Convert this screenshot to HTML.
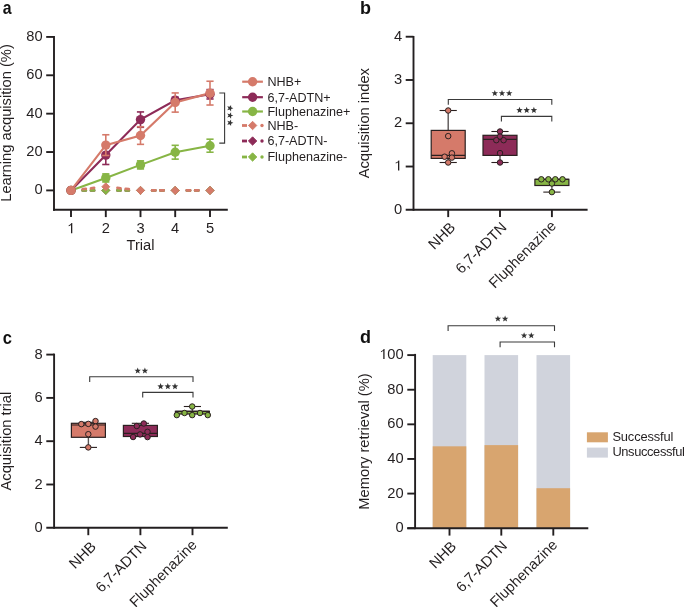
<!DOCTYPE html>
<html><head><meta charset="utf-8"><style>
html,body{margin:0;padding:0;background:#fff;}
svg{display:block;will-change:transform;font-family:"Liberation Sans",sans-serif;}
text{font-family:"Liberation Sans",sans-serif;}
</style></head><body>
<svg width="685" height="607" viewBox="0 0 685 607">
<rect width="685" height="607" fill="#fff"/>
<text x="0" y="0" font-size="18" font-weight="bold" fill="#111" transform="translate(2.8,13.8) scale(0.88,1)">a</text>
<line x1="54.0" y1="36.0" x2="54.0" y2="210.65" stroke="#231f20" stroke-width="1.9" />
<line x1="53.05" y1="209.7" x2="227.8" y2="209.7" stroke="#231f20" stroke-width="1.9" />
<line x1="46.2" y1="190.4" x2="54.0" y2="190.4" stroke="#231f20" stroke-width="1.9" />
<text x="34.42" y="194.40" font-size="14.7" fill="#231f20">0</text>
<line x1="46.2" y1="152.03" x2="54.0" y2="152.03" stroke="#231f20" stroke-width="1.9" />
<text x="26.25" y="156.03" font-size="14.7" fill="#231f20">2</text>
<text x="34.42" y="156.03" font-size="14.7" fill="#231f20">0</text>
<line x1="46.2" y1="113.66" x2="54.0" y2="113.66" stroke="#231f20" stroke-width="1.9" />
<text x="26.25" y="117.66" font-size="14.7" fill="#231f20">4</text>
<text x="34.42" y="117.66" font-size="14.7" fill="#231f20">0</text>
<line x1="46.2" y1="75.29" x2="54.0" y2="75.29" stroke="#231f20" stroke-width="1.9" />
<text x="26.25" y="79.29" font-size="14.7" fill="#231f20">6</text>
<text x="34.42" y="79.29" font-size="14.7" fill="#231f20">0</text>
<line x1="46.2" y1="36.91999999999999" x2="54.0" y2="36.91999999999999" stroke="#231f20" stroke-width="1.9" />
<text x="26.25" y="40.92" font-size="14.7" fill="#231f20">8</text>
<text x="34.42" y="40.92" font-size="14.7" fill="#231f20">0</text>
<line x1="71.0" y1="209.7" x2="71.0" y2="217.1" stroke="#231f20" stroke-width="1.9" />
<path d="M570,0H750V1409H633C595,1300 480,1180 247,1104V970C380,1010 490,1070 570,1150Z" fill="#231f20" transform="translate(66.91,233.20) scale(0.00718,-0.00718)"/>
<line x1="105.8" y1="209.7" x2="105.8" y2="217.1" stroke="#231f20" stroke-width="1.9" />
<text x="101.71" y="233.20" font-size="14.7" fill="#231f20">2</text>
<line x1="140.5" y1="209.7" x2="140.5" y2="217.1" stroke="#231f20" stroke-width="1.9" />
<text x="136.41" y="233.20" font-size="14.7" fill="#231f20">3</text>
<line x1="175.2" y1="209.7" x2="175.2" y2="217.1" stroke="#231f20" stroke-width="1.9" />
<text x="171.11" y="233.20" font-size="14.7" fill="#231f20">4</text>
<line x1="210.0" y1="209.7" x2="210.0" y2="217.1" stroke="#231f20" stroke-width="1.9" />
<text x="205.91" y="233.20" font-size="14.7" fill="#231f20">5</text>
<text x="140.5" y="249.8" font-size="14.7" text-anchor="middle" font-weight="normal" fill="#231f20" >Trial</text>
<text x="0" y="0" font-size="14.7" text-anchor="middle" fill="#231f20" transform="translate(11.2,123.0) rotate(-90)">Learning acquisition (%)</text>
<path d="M82.70,190.40L85.80,190.40M91.00,190.40L94.10,190.40M117.45,190.40L120.55,190.40M125.75,190.40L128.85,190.40M152.15,190.40L155.25,190.40M160.45,190.40L163.55,190.40M186.90,190.40L190.00,190.40M195.20,190.40L198.30,190.40" fill="none" stroke="#8d2b58" stroke-width="2.8" stroke-linecap="round"/>
<polygon points="71.0,186.4 75.0,190.4 71.0,194.4 67.0,190.4" fill="#8d2b58" stroke="#8d2b58" stroke-width="0.9" stroke-linejoin="round"/>
<polygon points="105.8,186.4 109.8,190.4 105.8,194.4 101.8,190.4" fill="#8d2b58" stroke="#8d2b58" stroke-width="0.9" stroke-linejoin="round"/>
<polygon points="140.5,186.4 144.5,190.4 140.5,194.4 136.5,190.4" fill="#8d2b58" stroke="#8d2b58" stroke-width="0.9" stroke-linejoin="round"/>
<polygon points="175.2,186.4 179.2,190.4 175.2,194.4 171.2,190.4" fill="#8d2b58" stroke="#8d2b58" stroke-width="0.9" stroke-linejoin="round"/>
<polygon points="210.0,186.4 214.0,190.4 210.0,194.4 206.0,190.4" fill="#8d2b58" stroke="#8d2b58" stroke-width="0.9" stroke-linejoin="round"/>
<path d="M82.70,190.40L85.80,190.40M91.00,190.40L94.10,190.40M117.45,190.40L120.55,190.40M125.75,190.40L128.85,190.40M152.15,190.40L155.25,190.40M160.45,190.40L163.55,190.40M186.90,190.40L190.00,190.40M195.20,190.40L198.30,190.40" fill="none" stroke="#87b545" stroke-width="2.8" stroke-linecap="round"/>
<polygon points="71.0,186.4 75.0,190.4 71.0,194.4 67.0,190.4" fill="#87b545" stroke="#87b545" stroke-width="0.9" stroke-linejoin="round"/>
<polygon points="105.8,186.4 109.8,190.4 105.8,194.4 101.8,190.4" fill="#87b545" stroke="#87b545" stroke-width="0.9" stroke-linejoin="round"/>
<polygon points="140.5,186.4 144.5,190.4 140.5,194.4 136.5,190.4" fill="#87b545" stroke="#87b545" stroke-width="0.9" stroke-linejoin="round"/>
<polygon points="175.2,186.4 179.2,190.4 175.2,194.4 171.2,190.4" fill="#87b545" stroke="#87b545" stroke-width="0.9" stroke-linejoin="round"/>
<polygon points="210.0,186.4 214.0,190.4 210.0,194.4 206.0,190.4" fill="#87b545" stroke="#87b545" stroke-width="0.9" stroke-linejoin="round"/>
<path d="M82.73,189.17L85.81,188.85M90.99,188.31L94.07,187.98M117.48,187.98L120.56,188.31M125.74,188.85L128.82,189.17M152.15,190.40L155.25,190.40M160.45,190.40L163.55,190.40M186.90,190.40L190.00,190.40M195.20,190.40L198.30,190.40" fill="none" stroke="#d57a6a" stroke-width="2.8" stroke-linecap="round"/>
<polygon points="71.0,186.4 75.0,190.4 71.0,194.4 67.0,190.4" fill="#d57a6a" stroke="#d57a6a" stroke-width="0.9" stroke-linejoin="round"/>
<polygon points="105.8,182.75 109.8,186.75 105.8,190.75 101.8,186.75" fill="#d57a6a" stroke="#d57a6a" stroke-width="0.9" stroke-linejoin="round"/>
<polygon points="140.5,186.4 144.5,190.4 140.5,194.4 136.5,190.4" fill="#d57a6a" stroke="#d57a6a" stroke-width="0.9" stroke-linejoin="round"/>
<polygon points="175.2,186.4 179.2,190.4 175.2,194.4 171.2,190.4" fill="#d57a6a" stroke="#d57a6a" stroke-width="0.9" stroke-linejoin="round"/>
<polygon points="210.0,186.4 214.0,190.4 210.0,194.4 206.0,190.4" fill="#d57a6a" stroke="#d57a6a" stroke-width="0.9" stroke-linejoin="round"/>
<polyline points="71.0,190.40 105.8,177.93 140.5,164.88 175.2,152.22 210.0,145.70" fill="none" stroke="#87b545" stroke-width="2.1"/>
<polyline points="71.0,190.40 105.8,155.10 140.5,119.61 175.2,100.23 210.0,94.28" fill="none" stroke="#8d2b58" stroke-width="2.1"/>
<polyline points="71.0,190.40 105.8,145.12 140.5,135.53 175.2,102.53 210.0,93.13" fill="none" stroke="#d57a6a" stroke-width="2.1"/>
<circle cx="71.0" cy="190.40" r="4.7" fill="#87b545"/>
<line x1="105.8" y1="173.9009" x2="105.8" y2="181.9586" stroke="#87b545" stroke-width="1.6" />
<line x1="102.2" y1="173.9009" x2="109.39999999999999" y2="173.9009" stroke="#87b545" stroke-width="1.6" />
<line x1="102.2" y1="181.9586" x2="109.39999999999999" y2="181.9586" stroke="#87b545" stroke-width="1.6" />
<circle cx="105.8" cy="177.93" r="4.7" fill="#87b545"/>
<line x1="140.5" y1="160.8551" x2="140.5" y2="168.9128" stroke="#87b545" stroke-width="1.6" />
<line x1="136.9" y1="160.8551" x2="144.1" y2="160.8551" stroke="#87b545" stroke-width="1.6" />
<line x1="136.9" y1="168.9128" x2="144.1" y2="168.9128" stroke="#87b545" stroke-width="1.6" />
<circle cx="140.5" cy="164.88" r="4.7" fill="#87b545"/>
<line x1="175.2" y1="145.31525" x2="175.2" y2="159.12845000000002" stroke="#87b545" stroke-width="1.6" />
<line x1="171.6" y1="145.31525" x2="178.79999999999998" y2="145.31525" stroke="#87b545" stroke-width="1.6" />
<line x1="171.6" y1="159.12845000000002" x2="178.79999999999998" y2="159.12845000000002" stroke="#87b545" stroke-width="1.6" />
<circle cx="175.2" cy="152.22" r="4.7" fill="#87b545"/>
<line x1="210.0" y1="139.17605" x2="210.0" y2="152.22185" stroke="#87b545" stroke-width="1.6" />
<line x1="206.4" y1="139.17605" x2="213.6" y2="139.17605" stroke="#87b545" stroke-width="1.6" />
<line x1="206.4" y1="152.22185" x2="213.6" y2="152.22185" stroke="#87b545" stroke-width="1.6" />
<circle cx="210.0" cy="145.70" r="4.7" fill="#87b545"/>
<circle cx="71.0" cy="190.40" r="4.7" fill="#8d2b58"/>
<line x1="105.8" y1="145.69895000000002" x2="105.8" y2="164.50025" stroke="#8d2b58" stroke-width="1.6" />
<line x1="102.2" y1="145.69895000000002" x2="109.39999999999999" y2="145.69895000000002" stroke="#8d2b58" stroke-width="1.6" />
<line x1="102.2" y1="164.50025" x2="109.39999999999999" y2="164.50025" stroke="#8d2b58" stroke-width="1.6" />
<circle cx="105.8" cy="155.10" r="4.7" fill="#8d2b58"/>
<line x1="140.5" y1="111.93335" x2="140.5" y2="127.28135" stroke="#8d2b58" stroke-width="1.6" />
<line x1="136.9" y1="111.93335" x2="144.1" y2="111.93335" stroke="#8d2b58" stroke-width="1.6" />
<line x1="136.9" y1="127.28135" x2="144.1" y2="127.28135" stroke="#8d2b58" stroke-width="1.6" />
<circle cx="140.5" cy="119.61" r="4.7" fill="#8d2b58"/>
<line x1="175.2" y1="97.1609" x2="175.2" y2="103.3001" stroke="#8d2b58" stroke-width="1.6" />
<line x1="171.6" y1="97.1609" x2="178.79999999999998" y2="97.1609" stroke="#8d2b58" stroke-width="1.6" />
<line x1="171.6" y1="103.3001" x2="178.79999999999998" y2="103.3001" stroke="#8d2b58" stroke-width="1.6" />
<circle cx="175.2" cy="100.23" r="4.7" fill="#8d2b58"/>
<line x1="210.0" y1="89.58282499999999" x2="210.0" y2="98.983475" stroke="#8d2b58" stroke-width="1.6" />
<line x1="206.4" y1="89.58282499999999" x2="213.6" y2="89.58282499999999" stroke="#8d2b58" stroke-width="1.6" />
<line x1="206.4" y1="98.983475" x2="213.6" y2="98.983475" stroke="#8d2b58" stroke-width="1.6" />
<circle cx="210.0" cy="94.28" r="4.7" fill="#8d2b58"/>
<circle cx="71.0" cy="190.40" r="4.7" fill="#d57a6a"/>
<line x1="105.8" y1="134.7635" x2="105.8" y2="155.48329999999999" stroke="#d57a6a" stroke-width="1.6" />
<line x1="102.2" y1="134.7635" x2="109.39999999999999" y2="134.7635" stroke="#d57a6a" stroke-width="1.6" />
<line x1="102.2" y1="155.48329999999999" x2="109.39999999999999" y2="155.48329999999999" stroke="#d57a6a" stroke-width="1.6" />
<circle cx="105.8" cy="145.12" r="4.7" fill="#d57a6a"/>
<line x1="140.5" y1="126.7058" x2="140.5" y2="144.356" stroke="#d57a6a" stroke-width="1.6" />
<line x1="136.9" y1="126.7058" x2="144.1" y2="126.7058" stroke="#d57a6a" stroke-width="1.6" />
<line x1="136.9" y1="144.356" x2="144.1" y2="144.356" stroke="#d57a6a" stroke-width="1.6" />
<circle cx="140.5" cy="135.53" r="4.7" fill="#d57a6a"/>
<line x1="175.2" y1="92.9402" x2="175.2" y2="112.1252" stroke="#d57a6a" stroke-width="1.6" />
<line x1="171.6" y1="92.9402" x2="178.79999999999998" y2="92.9402" stroke="#d57a6a" stroke-width="1.6" />
<line x1="171.6" y1="112.1252" x2="178.79999999999998" y2="112.1252" stroke="#d57a6a" stroke-width="1.6" />
<circle cx="175.2" cy="102.53" r="4.7" fill="#d57a6a"/>
<line x1="210.0" y1="81.23734999999999" x2="210.0" y2="105.02675" stroke="#d57a6a" stroke-width="1.6" />
<line x1="206.4" y1="81.23734999999999" x2="213.6" y2="81.23734999999999" stroke="#d57a6a" stroke-width="1.6" />
<line x1="206.4" y1="105.02675" x2="213.6" y2="105.02675" stroke="#d57a6a" stroke-width="1.6" />
<circle cx="210.0" cy="93.13" r="4.7" fill="#d57a6a"/>
<path d="M219.3,93.0 H224.6 V143.1 H219.3" fill="none" stroke="#3a3a3a" stroke-width="1.1"/>
<g transform="translate(230.0,115.5) rotate(90)">
<polygon points="-7.30,-3.40 -6.46,-1.16 -4.07,-1.05 -5.94,0.44 -5.30,2.75 -7.30,1.43 -9.30,2.75 -8.66,0.44 -10.53,-1.05 -8.14,-1.16" fill="#333"/>
<polygon points="0.00,-3.40 0.84,-1.16 3.23,-1.05 1.36,0.44 2.00,2.75 0.00,1.43 -2.00,2.75 -1.36,0.44 -3.23,-1.05 -0.84,-1.16" fill="#333"/>
<polygon points="7.30,-3.40 8.14,-1.16 10.53,-1.05 8.66,0.44 9.30,2.75 7.30,1.43 5.30,2.75 5.94,0.44 4.07,-1.05 6.46,-1.16" fill="#333"/>
</g>
<line x1="242.2" y1="81.7" x2="262.9" y2="81.7" stroke="#d57a6a" stroke-width="2.2" />
<circle cx="252.6" cy="81.7" r="4.7" fill="#d57a6a"/>
<text x="267.4" y="86.10000000000001" font-size="12.6" text-anchor="start" font-weight="normal" fill="#231f20" >NHB+</text>
<line x1="242.2" y1="97.2" x2="262.9" y2="97.2" stroke="#8d2b58" stroke-width="2.2" />
<circle cx="252.6" cy="97.2" r="4.7" fill="#8d2b58"/>
<text x="267.4" y="101.60000000000001" font-size="12.6" text-anchor="start" font-weight="normal" fill="#231f20" >6,7-ADTN+</text>
<line x1="242.2" y1="111.5" x2="262.9" y2="111.5" stroke="#87b545" stroke-width="2.2" />
<circle cx="252.6" cy="111.5" r="4.7" fill="#87b545"/>
<text x="267.4" y="115.9" font-size="12.6" text-anchor="start" font-weight="normal" fill="#231f20" >Fluphenazine+</text>
<path d="M242.0,125.5H247.0" stroke="#d57a6a" stroke-width="2.8"/>
<polygon points="252.6,121.3 256.8,125.5 252.6,129.7 248.4,125.5" fill="#d57a6a" stroke="#d57a6a" stroke-width="0.9" stroke-linejoin="round"/>
<circle cx="262.0" cy="125.5" r="1.7" fill="#d57a6a"/>
<text x="267.4" y="129.9" font-size="12.6" text-anchor="start" font-weight="normal" fill="#231f20" >NHB-</text>
<path d="M242.0,141.0H247.0" stroke="#8d2b58" stroke-width="2.8"/>
<polygon points="252.6,136.8 256.8,141.0 252.6,145.2 248.4,141.0" fill="#8d2b58" stroke="#8d2b58" stroke-width="0.9" stroke-linejoin="round"/>
<circle cx="262.0" cy="141.0" r="1.7" fill="#8d2b58"/>
<text x="267.4" y="145.4" font-size="12.6" text-anchor="start" font-weight="normal" fill="#231f20" >6,7-ADTN-</text>
<path d="M242.0,157.0H247.0" stroke="#87b545" stroke-width="2.8"/>
<polygon points="252.6,152.8 256.8,157.0 252.6,161.2 248.4,157.0" fill="#87b545" stroke="#87b545" stroke-width="0.9" stroke-linejoin="round"/>
<circle cx="262.0" cy="157.0" r="1.7" fill="#87b545"/>
<text x="267.4" y="161.4" font-size="12.6" text-anchor="start" font-weight="normal" fill="#231f20" >Fluphenazine-</text>
<text x="359.9" y="13.8" font-size="18" text-anchor="start" font-weight="bold" fill="#111" >b</text>
<line x1="413.5" y1="36.0" x2="413.5" y2="210.75" stroke="#231f20" stroke-width="1.9" />
<line x1="405.7" y1="209.8" x2="587.6" y2="209.8" stroke="#231f20" stroke-width="1.9" />
<line x1="405.7" y1="166.53" x2="413.5" y2="166.53" stroke="#231f20" stroke-width="1.9" />
<path d="M570,0H750V1409H633C595,1300 480,1180 247,1104V970C380,1010 490,1070 570,1150Z" fill="#231f20" transform="translate(393.92,170.53) scale(0.00718,-0.00718)"/>
<line x1="405.7" y1="123.26" x2="413.5" y2="123.26" stroke="#231f20" stroke-width="1.9" />
<text x="393.92" y="127.26" font-size="14.7" fill="#231f20">2</text>
<line x1="405.7" y1="79.99000000000001" x2="413.5" y2="79.99000000000001" stroke="#231f20" stroke-width="1.9" />
<text x="393.92" y="83.99" font-size="14.7" fill="#231f20">3</text>
<line x1="405.7" y1="36.72" x2="413.5" y2="36.72" stroke="#231f20" stroke-width="1.9" />
<text x="393.92" y="40.72" font-size="14.7" fill="#231f20">4</text>
<text x="402.1" y="213.8" font-size="14.7" text-anchor="end" font-weight="normal" fill="#231f20" >0</text>
<line x1="448.2" y1="209.8" x2="448.2" y2="217.1" stroke="#231f20" stroke-width="1.9" />
<line x1="500.0" y1="209.8" x2="500.0" y2="217.1" stroke="#231f20" stroke-width="1.9" />
<line x1="551.9" y1="209.8" x2="551.9" y2="217.1" stroke="#231f20" stroke-width="1.9" />
<text x="0" y="0" font-size="14.7" text-anchor="middle" fill="#231f20" transform="translate(368.6,123.2) rotate(-90)">Acquisition index</text>
<text x="0" y="0" font-size="14.7" text-anchor="end" fill="#231f20" transform="translate(456.1,228.4) rotate(-45)">NHB</text>
<text x="0" y="0" font-size="14.7" text-anchor="end" fill="#231f20" transform="translate(507.6,228.3) rotate(-45)">6,7-ADTN</text>
<text x="0" y="0" font-size="14.7" text-anchor="end" fill="#231f20" transform="translate(557.1,226.7) rotate(-45)">Fluphenazine</text>
<line x1="448.2" y1="110.5" x2="448.2" y2="130.4" stroke="#5a5555" stroke-width="1.4" />
<line x1="439.59999999999997" y1="110.5" x2="456.8" y2="110.5" stroke="#2a2020" stroke-width="1.1" />
<line x1="448.2" y1="158.4" x2="448.2" y2="162.5" stroke="#5a5555" stroke-width="1.4" />
<line x1="439.59999999999997" y1="162.5" x2="456.8" y2="162.5" stroke="#2a2020" stroke-width="1.1" />
<rect x="431.2" y="130.4" width="34.0" height="28.0" fill="#d57a6a" stroke="#2a2020" stroke-width="1.2"/>
<line x1="431.2" y1="155.3" x2="465.2" y2="155.3" stroke="#2a2020" stroke-width="1.2" />
<circle cx="448.2" cy="110.5" r="2.75" fill="#d57a6a" stroke="#2a2020" stroke-width="1.0"/>
<circle cx="448.2" cy="136.1" r="2.75" fill="#d57a6a" stroke="#2a2020" stroke-width="1.0"/>
<circle cx="451.9" cy="153.3" r="2.75" fill="#d57a6a" stroke="#2a2020" stroke-width="1.0"/>
<circle cx="444.6" cy="156.7" r="2.75" fill="#d57a6a" stroke="#2a2020" stroke-width="1.0"/>
<circle cx="451.9" cy="157.6" r="2.75" fill="#d57a6a" stroke="#2a2020" stroke-width="1.0"/>
<circle cx="448.2" cy="162.5" r="2.75" fill="#d57a6a" stroke="#2a2020" stroke-width="1.0"/>
<line x1="500.0" y1="131.5" x2="500.0" y2="135.3" stroke="#5a5555" stroke-width="1.4" />
<line x1="491.4" y1="131.5" x2="508.6" y2="131.5" stroke="#2a2020" stroke-width="1.1" />
<line x1="500.0" y1="155.4" x2="500.0" y2="162.5" stroke="#5a5555" stroke-width="1.4" />
<line x1="491.4" y1="162.5" x2="508.6" y2="162.5" stroke="#2a2020" stroke-width="1.1" />
<rect x="483.0" y="135.3" width="34.0" height="20.099999999999994" fill="#8d2b58" stroke="#2a2020" stroke-width="1.2"/>
<line x1="483.0" y1="139.4" x2="517.0" y2="139.4" stroke="#2a2020" stroke-width="1.2" />
<circle cx="500.0" cy="131.5" r="2.75" fill="#8d2b58" stroke="#2a2020" stroke-width="1.0"/>
<circle cx="500.0" cy="136.6" r="2.75" fill="#8d2b58" stroke="#2a2020" stroke-width="1.0"/>
<circle cx="496.3" cy="140.2" r="2.75" fill="#8d2b58" stroke="#2a2020" stroke-width="1.0"/>
<circle cx="503.6" cy="140.2" r="2.75" fill="#8d2b58" stroke="#2a2020" stroke-width="1.0"/>
<circle cx="500.0" cy="153.1" r="2.75" fill="#8d2b58" stroke="#2a2020" stroke-width="1.0"/>
<circle cx="500.0" cy="162.5" r="2.75" fill="#8d2b58" stroke="#2a2020" stroke-width="1.0"/>
<line x1="551.9" y1="185.5" x2="551.9" y2="192.1" stroke="#5a5555" stroke-width="1.4" />
<line x1="543.3" y1="192.1" x2="560.5" y2="192.1" stroke="#2a2020" stroke-width="1.1" />
<rect x="534.9" y="179.3" width="34.0" height="6.199999999999989" fill="#87b545" stroke="#2a2020" stroke-width="1.2"/>
<line x1="534.9" y1="179.3" x2="568.9" y2="179.3" stroke="#2a2020" stroke-width="1.2" />
<circle cx="541.3" cy="179.3" r="2.75" fill="#87b545" stroke="#2a2020" stroke-width="1.0"/>
<circle cx="548.4" cy="179.3" r="2.75" fill="#87b545" stroke="#2a2020" stroke-width="1.0"/>
<circle cx="555.3" cy="179.3" r="2.75" fill="#87b545" stroke="#2a2020" stroke-width="1.0"/>
<circle cx="562.5" cy="179.3" r="2.75" fill="#87b545" stroke="#2a2020" stroke-width="1.0"/>
<circle cx="551.9" cy="183.5" r="2.75" fill="#87b545" stroke="#2a2020" stroke-width="1.0"/>
<circle cx="551.9" cy="192.1" r="2.75" fill="#87b545" stroke="#2a2020" stroke-width="1.0"/>
<path d="M448.3,104.7 V99.5 H551.8 V104.7" fill="none" stroke="#3a3a3a" stroke-width="1.1"/>
<polygon points="494.80,89.90 495.64,92.14 498.03,92.25 496.16,93.74 496.80,96.05 494.80,94.73 492.80,96.05 493.44,93.74 491.57,92.25 493.96,92.14" fill="#333"/>
<polygon points="502.00,89.90 502.84,92.14 505.23,92.25 503.36,93.74 504.00,96.05 502.00,94.73 500.00,96.05 500.64,93.74 498.77,92.25 501.16,92.14" fill="#333"/>
<polygon points="509.20,89.90 510.04,92.14 512.43,92.25 510.56,93.74 511.20,96.05 509.20,94.73 507.20,96.05 507.84,93.74 505.97,92.25 508.36,92.14" fill="#333"/>
<path d="M501.4,121.60000000000001 V116.4 H551.8 V121.60000000000001" fill="none" stroke="#3a3a3a" stroke-width="1.1"/>
<polygon points="519.50,106.80 520.34,109.04 522.73,109.15 520.86,110.64 521.50,112.95 519.50,111.63 517.50,112.95 518.14,110.64 516.27,109.15 518.66,109.04" fill="#333"/>
<polygon points="526.70,106.80 527.54,109.04 529.93,109.15 528.06,110.64 528.70,112.95 526.70,111.63 524.70,112.95 525.34,110.64 523.47,109.15 525.86,109.04" fill="#333"/>
<polygon points="533.90,106.80 534.74,109.04 537.13,109.15 535.26,110.64 535.90,112.95 533.90,111.63 531.90,112.95 532.54,110.64 530.67,109.15 533.06,109.04" fill="#333"/>
<text x="0" y="0" font-size="18" font-weight="bold" fill="#111" transform="translate(2.8,343.8) scale(0.92,1)">c</text>
<line x1="54.1" y1="353.6" x2="54.1" y2="528.75" stroke="#231f20" stroke-width="1.9" />
<line x1="46.300000000000004" y1="527.8" x2="227.8" y2="527.8" stroke="#231f20" stroke-width="1.9" />
<line x1="46.300000000000004" y1="484.49999999999994" x2="54.1" y2="484.49999999999994" stroke="#231f20" stroke-width="1.9" />
<text x="34.52" y="488.50" font-size="14.7" fill="#231f20">2</text>
<line x1="46.300000000000004" y1="441.19999999999993" x2="54.1" y2="441.19999999999993" stroke="#231f20" stroke-width="1.9" />
<text x="34.52" y="445.20" font-size="14.7" fill="#231f20">4</text>
<line x1="46.300000000000004" y1="397.9" x2="54.1" y2="397.9" stroke="#231f20" stroke-width="1.9" />
<text x="34.52" y="401.90" font-size="14.7" fill="#231f20">6</text>
<line x1="46.300000000000004" y1="354.59999999999997" x2="54.1" y2="354.59999999999997" stroke="#231f20" stroke-width="1.9" />
<text x="34.52" y="358.60" font-size="14.7" fill="#231f20">8</text>
<text x="42.699999999999996" y="531.8" font-size="14.7" text-anchor="end" font-weight="normal" fill="#231f20" >0</text>
<line x1="88.3" y1="527.8" x2="88.3" y2="535.2" stroke="#231f20" stroke-width="1.9" />
<line x1="140.4" y1="527.8" x2="140.4" y2="535.2" stroke="#231f20" stroke-width="1.9" />
<line x1="192.5" y1="527.8" x2="192.5" y2="535.2" stroke="#231f20" stroke-width="1.9" />
<text x="0" y="0" font-size="14.7" text-anchor="middle" fill="#231f20" transform="translate(11.3,441.1) rotate(-90)">Acquisition trial</text>
<text x="0" y="0" font-size="14.7" text-anchor="end" fill="#231f20" transform="translate(96.9,547.5) rotate(-45)">NHB</text>
<text x="0" y="0" font-size="14.7" text-anchor="end" fill="#231f20" transform="translate(147.6,547.1) rotate(-45)">6,7-ADTN</text>
<text x="0" y="0" font-size="14.7" text-anchor="end" fill="#231f20" transform="translate(197.9,545.7) rotate(-45)">Fluphenazine</text>
<line x1="88.4" y1="422.3" x2="88.4" y2="423.3" stroke="#5a5555" stroke-width="1.4" />
<line x1="79.80000000000001" y1="422.3" x2="97.0" y2="422.3" stroke="#2a2020" stroke-width="1.1" />
<line x1="88.4" y1="437.3" x2="88.4" y2="447.4" stroke="#5a5555" stroke-width="1.4" />
<line x1="79.80000000000001" y1="447.4" x2="97.0" y2="447.4" stroke="#2a2020" stroke-width="1.1" />
<rect x="71.4" y="423.3" width="34.0" height="14.0" fill="#d57a6a" stroke="#2a2020" stroke-width="1.2"/>
<line x1="71.4" y1="425.0" x2="105.4" y2="425.0" stroke="#2a2020" stroke-width="1.2" />
<circle cx="81.3" cy="424.1" r="2.75" fill="#d57a6a" stroke="#2a2020" stroke-width="1.0"/>
<circle cx="88.3" cy="423.9" r="2.75" fill="#d57a6a" stroke="#2a2020" stroke-width="1.0"/>
<circle cx="95.5" cy="421.1" r="2.75" fill="#d57a6a" stroke="#2a2020" stroke-width="1.0"/>
<circle cx="95.5" cy="426.6" r="2.75" fill="#d57a6a" stroke="#2a2020" stroke-width="1.0"/>
<circle cx="88.3" cy="434.2" r="2.75" fill="#d57a6a" stroke="#2a2020" stroke-width="1.0"/>
<circle cx="88.3" cy="447.4" r="2.75" fill="#d57a6a" stroke="#2a2020" stroke-width="1.0"/>
<line x1="140.4" y1="423.3" x2="140.4" y2="425.4" stroke="#5a5555" stroke-width="1.4" />
<line x1="131.8" y1="423.3" x2="149.0" y2="423.3" stroke="#2a2020" stroke-width="1.1" />
<rect x="123.4" y="425.4" width="34.0" height="11.100000000000023" fill="#8d2b58" stroke="#2a2020" stroke-width="1.2"/>
<line x1="123.4" y1="433.4" x2="157.4" y2="433.4" stroke="#2a2020" stroke-width="1.2" />
<circle cx="136.8" cy="426.0" r="2.75" fill="#8d2b58" stroke="#2a2020" stroke-width="1.0"/>
<circle cx="143.8" cy="423.5" r="2.75" fill="#8d2b58" stroke="#2a2020" stroke-width="1.0"/>
<circle cx="140.1" cy="434.4" r="2.75" fill="#8d2b58" stroke="#2a2020" stroke-width="1.0"/>
<circle cx="133.1" cy="437.0" r="2.75" fill="#8d2b58" stroke="#2a2020" stroke-width="1.0"/>
<circle cx="147.5" cy="431.8" r="2.75" fill="#8d2b58" stroke="#2a2020" stroke-width="1.0"/>
<circle cx="147.5" cy="437.1" r="2.75" fill="#8d2b58" stroke="#2a2020" stroke-width="1.0"/>
<line x1="192.4" y1="406.5" x2="192.4" y2="411.3" stroke="#5a5555" stroke-width="1.4" />
<line x1="183.8" y1="406.5" x2="201.0" y2="406.5" stroke="#2a2020" stroke-width="1.1" />
<rect x="175.4" y="411.3" width="34.0" height="2.6999999999999886" fill="#87b545" stroke="#2a2020" stroke-width="1.2"/>
<line x1="175.4" y1="411.3" x2="209.4" y2="411.3" stroke="#2a2020" stroke-width="1.2" />
<circle cx="192.2" cy="406.5" r="2.75" fill="#87b545" stroke="#2a2020" stroke-width="1.0"/>
<circle cx="184.5" cy="413.0" r="2.75" fill="#87b545" stroke="#2a2020" stroke-width="1.0"/>
<circle cx="200.0" cy="413.0" r="2.75" fill="#87b545" stroke="#2a2020" stroke-width="1.0"/>
<circle cx="176.8" cy="415.1" r="2.75" fill="#87b545" stroke="#2a2020" stroke-width="1.0"/>
<circle cx="192.2" cy="415.1" r="2.75" fill="#87b545" stroke="#2a2020" stroke-width="1.0"/>
<circle cx="207.8" cy="415.1" r="2.75" fill="#87b545" stroke="#2a2020" stroke-width="1.0"/>
<path d="M89.7,381.9 V376.7 H193.0 V381.9" fill="none" stroke="#3a3a3a" stroke-width="1.1"/>
<polygon points="137.70,367.40 138.54,369.64 140.93,369.75 139.06,371.24 139.70,373.55 137.70,372.23 135.70,373.55 136.34,371.24 134.47,369.75 136.86,369.64" fill="#333"/>
<polygon points="144.90,367.40 145.74,369.64 148.13,369.75 146.26,371.24 146.90,373.55 144.90,372.23 142.90,373.55 143.54,371.24 141.67,369.75 144.06,369.64" fill="#333"/>
<path d="M142.7,397.59999999999997 V392.4 H193.0 V397.59999999999997" fill="none" stroke="#3a3a3a" stroke-width="1.1"/>
<polygon points="160.60,383.10 161.44,385.34 163.83,385.45 161.96,386.94 162.60,389.25 160.60,387.93 158.60,389.25 159.24,386.94 157.37,385.45 159.76,385.34" fill="#333"/>
<polygon points="167.80,383.10 168.64,385.34 171.03,385.45 169.16,386.94 169.80,389.25 167.80,387.93 165.80,389.25 166.44,386.94 164.57,385.45 166.96,385.34" fill="#333"/>
<polygon points="175.00,383.10 175.84,385.34 178.23,385.45 176.36,386.94 177.00,389.25 175.00,387.93 173.00,389.25 173.64,386.94 171.77,385.45 174.16,385.34" fill="#333"/>
<text x="359.9" y="343.4" font-size="18" text-anchor="start" font-weight="bold" fill="#111" >d</text>
<rect x="432.7" y="355.10" width="33.6" height="173.10" fill="#d0d3dc"/>
<rect x="432.7" y="446.32" width="33.6" height="81.88" fill="#d8a56f"/>
<rect x="484.5" y="355.10" width="33.6" height="173.10" fill="#d0d3dc"/>
<rect x="484.5" y="445.11" width="33.6" height="83.09" fill="#d8a56f"/>
<rect x="536.5" y="355.10" width="33.6" height="173.10" fill="#d0d3dc"/>
<rect x="536.5" y="488.21" width="33.6" height="39.99" fill="#d8a56f"/>
<line x1="415.1" y1="353.9" x2="415.1" y2="529.15" stroke="#231f20" stroke-width="1.9" />
<line x1="407.3" y1="528.2" x2="588.3" y2="528.2" stroke="#231f20" stroke-width="1.9" />
<line x1="407.3" y1="528.2" x2="415.1" y2="528.2" stroke="#231f20" stroke-width="1.9" />
<text x="395.52" y="532.20" font-size="14.7" fill="#231f20">0</text>
<line x1="407.3" y1="493.58000000000004" x2="415.1" y2="493.58000000000004" stroke="#231f20" stroke-width="1.9" />
<text x="387.35" y="497.58" font-size="14.7" fill="#231f20">2</text>
<text x="395.52" y="497.58" font-size="14.7" fill="#231f20">0</text>
<line x1="407.3" y1="458.96000000000004" x2="415.1" y2="458.96000000000004" stroke="#231f20" stroke-width="1.9" />
<text x="387.35" y="462.96" font-size="14.7" fill="#231f20">4</text>
<text x="395.52" y="462.96" font-size="14.7" fill="#231f20">0</text>
<line x1="407.3" y1="424.34000000000003" x2="415.1" y2="424.34000000000003" stroke="#231f20" stroke-width="1.9" />
<text x="387.35" y="428.34" font-size="14.7" fill="#231f20">6</text>
<text x="395.52" y="428.34" font-size="14.7" fill="#231f20">0</text>
<line x1="407.3" y1="389.72" x2="415.1" y2="389.72" stroke="#231f20" stroke-width="1.9" />
<text x="387.35" y="393.72" font-size="14.7" fill="#231f20">8</text>
<text x="395.52" y="393.72" font-size="14.7" fill="#231f20">0</text>
<line x1="407.3" y1="355.1" x2="415.1" y2="355.1" stroke="#231f20" stroke-width="1.9" />
<path d="M570,0H750V1409H633C595,1300 480,1180 247,1104V970C380,1010 490,1070 570,1150Z" fill="#231f20" transform="translate(379.17,359.10) scale(0.00718,-0.00718)"/>
<text x="387.35" y="359.10" font-size="14.7" fill="#231f20">0</text>
<text x="395.52" y="359.10" font-size="14.7" fill="#231f20">0</text>
<line x1="449.5" y1="528.2" x2="449.5" y2="535.6" stroke="#231f20" stroke-width="1.9" />
<line x1="501.3" y1="528.2" x2="501.3" y2="535.6" stroke="#231f20" stroke-width="1.9" />
<line x1="553.3" y1="528.2" x2="553.3" y2="535.6" stroke="#231f20" stroke-width="1.9" />
<text x="0" y="0" font-size="14.7" text-anchor="middle" fill="#231f20" transform="translate(369.0,441.5) rotate(-90)">Memory retrieval (%)</text>
<text x="0" y="0" font-size="14.7" text-anchor="end" fill="#231f20" transform="translate(457.1,547.2) rotate(-45)">NHB</text>
<text x="0" y="0" font-size="14.7" text-anchor="end" fill="#231f20" transform="translate(508.1,546.8) rotate(-45)">6,7-ADTN</text>
<text x="0" y="0" font-size="14.7" text-anchor="end" fill="#231f20" transform="translate(558.3,545.6) rotate(-45)">Fluphenazine</text>
<path d="M448.1,331.0 V325.8 H554.5 V331.0" fill="none" stroke="#3a3a3a" stroke-width="1.1"/>
<polygon points="497.90,315.40 498.74,317.64 501.13,317.75 499.26,319.24 499.90,321.55 497.90,320.23 495.90,321.55 496.54,319.24 494.67,317.75 497.06,317.64" fill="#333"/>
<polygon points="505.10,315.40 505.94,317.64 508.33,317.75 506.46,319.24 507.10,321.55 505.10,320.23 503.10,321.55 503.74,319.24 501.87,317.75 504.26,317.64" fill="#333"/>
<path d="M500.1,347.2 V342.0 H554.5 V347.2" fill="none" stroke="#3a3a3a" stroke-width="1.1"/>
<polygon points="524.10,332.20 524.94,334.44 527.33,334.55 525.46,336.04 526.10,338.35 524.10,337.03 522.10,338.35 522.74,336.04 520.87,334.55 523.26,334.44" fill="#333"/>
<polygon points="531.30,332.20 532.14,334.44 534.53,334.55 532.66,336.04 533.30,338.35 531.30,337.03 529.30,338.35 529.94,336.04 528.07,334.55 530.46,334.44" fill="#333"/>
<rect x="586.9" y="432.3" width="21" height="10" fill="#d8a56f"/>
<rect x="586.9" y="447.6" width="21" height="10" fill="#d0d3dc"/>
<text x="612.4" y="440.6" font-size="12.9" text-anchor="start" font-weight="normal" fill="#231f20" letter-spacing="-0.15">Successful</text>
<text x="612.4" y="456.1" font-size="12.9" text-anchor="start" font-weight="normal" fill="#231f20" letter-spacing="-0.38">Unsuccessful</text>
</svg>
</body></html>
